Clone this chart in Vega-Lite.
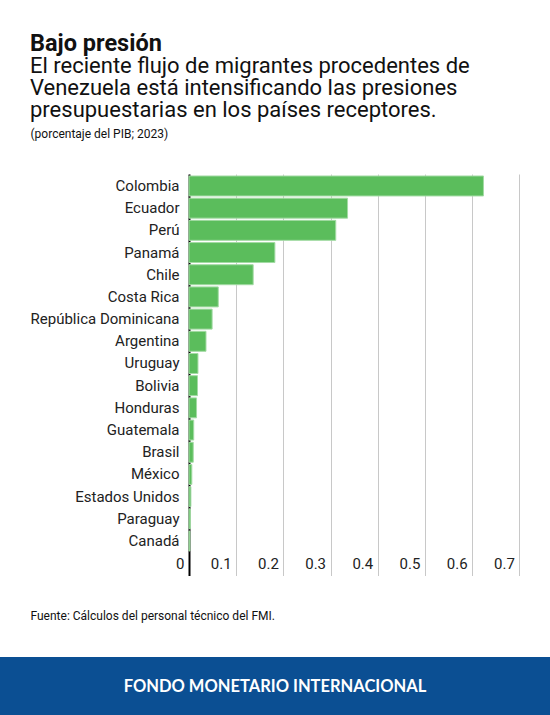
{
  "$schema": "https://vega.github.io/schema/vega-lite/v6.json",
  "background": "white",
  "padding": {"left": 0, "right": 0, "top": 31, "bottom": 0},
  "config": {
    "font": "Roboto",
    "view": {"stroke": null}
  },
  "spacing": 35,
  "datasets": {
    "migracion": [
      {"pais": "Colombia", "valor": 0.624},
      {"pais": "Ecuador", "valor": 0.336},
      {"pais": "Perú", "valor": 0.311},
      {"pais": "Panamá", "valor": 0.182},
      {"pais": "Chile", "valor": 0.136},
      {"pais": "Costa Rica", "valor": 0.062},
      {"pais": "República Dominicana", "valor": 0.049},
      {"pais": "Argentina", "valor": 0.036},
      {"pais": "Uruguay", "valor": 0.019},
      {"pais": "Bolivia", "valor": 0.018},
      {"pais": "Honduras", "valor": 0.016},
      {"pais": "Guatemala", "valor": 0.010},
      {"pais": "Brasil", "valor": 0.009},
      {"pais": "México", "valor": 0.006},
      {"pais": "Estados Unidos", "valor": 0.004},
      {"pais": "Paraguay", "valor": 0.003},
      {"pais": "Canadá", "valor": 0.002}
    ],
    "pie": [
      {"texto": "FONDO MONETARIO INTERNACIONAL"}
    ]
  },
  "vconcat": [
    {
      "width": 550,
      "height": 401.5,
      "data": {"name": "migracion"},
      "title": {
        "text": "Bajo presión",
        "subtitle": [
          "El reciente flujo de migrantes procedentes de",
          "Venezuela está intensificando las presiones",
          "presupuestarias en los países receptores."
        ],
        "anchor": "start",
        "frame": "group",
        "dx": 30,
        "offset": 6,
        "fontSize": 23.5,
        "fontWeight": "bold",
        "color": "#111111",
        "subtitleFontSize": 22,
        "subtitleLineHeight": 22,
        "subtitlePadding": 1,
        "subtitleColor": "#111111"
      },
      "mark": {"type": "bar", "color": "#5bbd5c", "stroke": "#a3dba4", "strokeWidth": 1},
      "encoding": {
        "y": {
          "field": "pais",
          "type": "nominal",
          "sort": null,
          "scale": {"paddingInner": 0.1, "paddingOuter": 0.597, "align": 0.075},
          "axis": {
            "title": "(porcentaje del PIB; 2023)",
            "titleAngle": 0,
            "titleAlign": "left",
            "titleBaseline": "alphabetic",
            "titleX": -159,
            "titleY": -37,
            "titleFontSize": 12,
            "titleFontWeight": "normal",
            "titleColor": "#111111",
            "offset": -189,
            "minExtent": 0,
            "domainColor": "black",
            "domainWidth": 2,
            "ticks": false,
            "tickSize": 0,
            "labelFontSize": 15,
            "labelColor": "#222222",
            "labelPadding": 10,
            "grid": false
          }
        },
        "x": {
          "field": "valor",
          "type": "quantitative",
          "scale": {"domain": [-0.4005, 0.765], "nice": false, "zero": false},
          "axis": {
            "values": [0, 0.1, 0.2, 0.3, 0.4, 0.5, 0.6, 0.7],
            "format": "~g",
            "title": "Fuente: Cálculos del personal técnico del FMI.",
            "titleAngle": 0,
            "titleAlign": "left",
            "titleBaseline": "alphabetic",
            "titleX": 30,
            "titleY": 44,
            "titleFontSize": 12,
            "titleFontWeight": "normal",
            "titleColor": "#111111",
            "domain": false,
            "ticks": false,
            "tickSize": 0,
            "grid": true,
            "gridColor": "#c8c8c8",
            "gridWidth": 1,
            "labelFontSize": 15,
            "labelColor": "#222222",
            "labelAlign": "right",
            "labelBaseline": "alphabetic",
            "labelOffset": -5,
            "labelPadding": -7,
            "labelFlush": false
          }
        }
      }
    },
    {
      "width": 550,
      "height": 60,
      "view": {"fill": "#0b4f93", "stroke": null},
      "data": {"name": "pie"},
      "mark": {"type": "text", "color": "white", "font": "Lato", "fontSize": 16.5, "fontWeight": "bold", "baseline": "middle"},
      "encoding": {
        "text": {"field": "texto", "type": "nominal"}
      }
    }
  ]
}
